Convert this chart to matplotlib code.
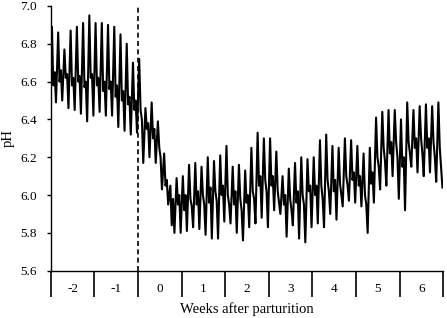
import matplotlib as mpl
import matplotlib.pyplot as plt
import numpy as np

mpl.rcParams.update({
    "font.family": "serif",
    "font.serif": ["Liberation Serif", "DejaVu Serif"],
    "font.size": 10,
    "axes.linewidth": 1.0,
})

# ── data ──────────────────────────────────────────────────────────
# each day: peak, after-peak, mid, trough (pH)
start_ph = 6.56
wk_m2 = [6.89, 6.58, 6.65, 6.49,  6.86, 6.60, 6.66, 6.50,  6.77, 6.62, 6.64, 6.46,
         6.87, 6.58, 6.62, 6.45,  6.89, 6.60, 6.63, 6.43,  6.91, 6.57, 6.60, 6.39,
         6.95, 6.62, 6.64, 6.42]
wk_m1 = [6.91, 6.58, 6.62, 6.44,  6.91, 6.55, 6.60, 6.42,  6.90, 6.56, 6.60, 6.42,
         6.89, 6.52, 6.58, 6.36,  6.85, 6.50, 6.55, 6.34,  6.80, 6.48, 6.52, 6.32,
         6.70, 6.45, 6.50, 6.33]
wk_0 = [6.72, 6.45, 6.40, 6.17,  6.46, 6.35, 6.38, 6.20,  6.49, 6.30, 6.35, 6.17,
        6.39, 6.25, 6.20, 6.03,  6.22, 6.05, 6.08, 5.95,  6.05, 5.84, 5.98, 5.80,
        6.09, 5.95, 6.00, 5.80]
wk_1 = [6.10, 5.92, 6.00, 5.81,  6.16, 5.98, 5.94, 5.83,  6.17, 5.95, 6.02, 5.82,
        6.15, 6.00, 5.95, 5.79,  6.20, 5.96, 6.04, 5.77,  6.18, 6.02, 5.97, 5.77,
        6.21, 6.00, 6.05, 5.86]
wk_2 = [6.26, 6.00, 5.95, 5.85,  6.15, 5.95, 6.02, 5.80,  6.16, 5.98, 5.92, 5.76,
        6.13, 5.96, 6.00, 5.83,  6.25, 6.02, 5.98, 5.85,  6.33, 6.05, 6.10, 5.88,
        6.30, 6.08, 6.02, 5.83]
wk_3 = [6.30, 6.05, 6.10, 5.92,  6.23, 6.02, 5.96, 5.90,  6.10, 5.95, 6.00, 5.78,
        6.14, 5.98, 5.92, 5.84,  6.17, 5.96, 6.02, 5.77,  6.20, 6.00, 5.95, 5.75,
        6.19, 6.02, 6.05, 5.83]
wk_4 = [6.20, 6.00, 6.05, 5.85,  6.29, 6.05, 5.98, 5.83,  6.32, 6.08, 6.02, 5.90,
        6.26, 6.02, 6.08, 5.87,  6.25, 6.06, 6.00, 5.94,  6.30, 6.10, 6.05, 5.97,
        6.29, 6.08, 6.12, 5.96]
wk_5 = [6.26, 6.05, 6.10, 5.94,  6.22, 6.00, 5.95, 5.80,  6.25, 6.06, 6.12, 5.96,
        6.41, 6.20, 6.15, 6.03,  6.44, 6.25, 6.18, 6.05,  6.45, 6.22, 6.28, 6.10,
        6.45, 6.28, 6.20, 5.98]
wk_6 = [6.40, 6.15, 6.20, 5.92,  6.49, 6.28, 6.22, 6.15,  6.45, 6.25, 6.30, 6.12,
        6.47, 6.30, 6.22, 6.10,  6.48, 6.25, 6.30, 6.12,  6.47, 6.28, 6.20, 6.07,
        6.49, 6.25, 6.15, 6.04]

week_labels = ["-2", "-1", "0", "1", "2", "3", "4", "5", "6"]
parturition_day = 14

ph = np.array([start_ph] + wk_m2 + wk_m1 + wk_0 + wk_1 + wk_2 + wk_3 + wk_4 + wk_5 + wk_6)
n_days = len(week_labels) * 7
day_x = np.concatenate([[0.0], (np.arange(n_days)[:, None] + np.array([0.2, 0.42, 0.63, 0.85])).ravel()])

# ── plot ──────────────────────────────────────────────────────────
fig = plt.figure(figsize=(4.47, 3.18), dpi=100)
ax = fig.add_axes([0.1134, 0.1487, 0.8785, 0.8325])

ax.plot(day_x, ph, color="black", lw=1.5)
ax.axvline(parturition_day, color="black", lw=1.2, ls=(0, (3, 2)))

ax.set_xlim(0, n_days)
ax.set_ylim(5.6, 7.0)
ax.set_yticks(np.arange(5.6, 7.01, 0.2))
ax.set_yticklabels([f"{v:.1f}" for v in np.arange(5.6, 7.01, 0.2)])
ax.tick_params(axis="y", direction="out", length=3, width=1.0, labelsize=9.5, pad=7)

# week boundaries as long ticks, labels centred between them
ax.set_xticks(np.arange(0, n_days + 1, 7))
ax.set_xticklabels([])
ax.set_xticks(np.arange(3.5, n_days, 7), minor=True)
ax.set_xticklabels(week_labels, minor=True)
ax.tick_params(axis="x", which="major", direction="out", length=19, width=1.2)
ax.tick_params(axis="x", which="minor", length=0, pad=9, labelsize=9.5)

ax.spines["top"].set_visible(False)
ax.spines["right"].set_visible(False)

ax.set_xlabel("Weeks after parturition", fontsize=10.5, labelpad=0)
ax.set_ylabel("pH", fontsize=10.5, labelpad=4)

fig.savefig("out.png", dpi=100)
plt.close(fig)
